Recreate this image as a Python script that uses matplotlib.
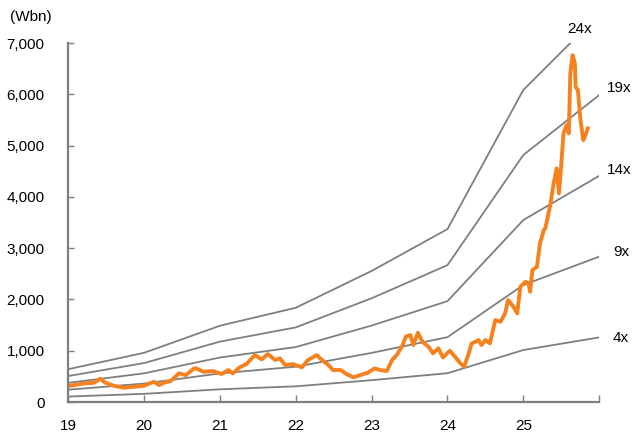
import matplotlib.pyplot as plt
import numpy as np

plt.rcParams['font.family'] = ['Liberation Sans', 'DejaVu Sans']

# PER band: yearly earnings nodes (Wbn) and multiples
band_years = [19, 20, 21, 22, 23, 24, 25, 26]
earnings = [26.7, 40.0, 62.0, 76.6, 106.5, 140.5, 253.5, 315.0]
multiples = [4, 9, 14, 19, 24]

# market cap (Wbn)
mc_years = [19.00, 19.08, 19.21, 19.34, 19.42, 19.49, 19.60, 19.73, 19.87, 20.00,
            20.13, 20.20, 20.26, 20.35, 20.46, 20.55, 20.66, 20.69, 20.78, 20.91,
            21.02, 21.11, 21.17, 21.26, 21.35, 21.46, 21.55, 21.63, 21.73, 21.79,
            21.86, 21.96, 22.08, 22.16, 22.28, 22.32, 22.43, 22.49, 22.59, 22.67,
            22.76, 22.85, 22.95, 23.04, 23.11, 23.20, 23.27, 23.33, 23.40, 23.45,
            23.51, 23.55, 23.61, 23.67, 23.75, 23.81, 23.88, 23.94, 24.03, 24.10,
            24.17, 24.22, 24.28, 24.32, 24.37, 24.41, 24.45, 24.50, 24.56, 24.63,
            24.70, 24.76, 24.80, 24.87, 24.92, 24.96, 25.03, 25.07, 25.09, 25.12,
            25.18, 25.22, 25.27, 25.29, 25.36, 25.40, 25.44, 25.47, 25.50, 25.53,
            25.57, 25.60, 25.62, 25.65, 25.68, 25.69, 25.72, 25.75, 25.79, 25.82,
            25.85]
mc_values = [312, 330, 364, 376, 454, 376, 318, 279, 298, 318,
             396, 331, 376, 409, 559, 526, 656, 656, 591, 604,
             546, 624, 559, 676, 741, 916, 832, 936, 819, 851,
             721, 741, 676, 819, 916, 851, 721, 624, 624, 546,
             481, 526, 572, 656, 624, 604, 819, 916, 1078, 1273,
             1306, 1111, 1351, 1175, 1078, 949, 1047, 871, 1000, 883,
             754, 688, 949, 1144, 1175, 1209, 1111, 1209, 1144, 1598,
             1565, 1729, 1988, 1858, 1729, 2248, 2345, 2314, 2150, 2573,
             2637, 3094, 3353, 3386, 3873, 4263, 4555, 4068, 4620, 5238,
             5400, 5238, 6407, 6764, 6602, 6146, 6082, 5561, 5107, 5205,
             5335]

label_pos = {24: (25.58, 7270), 19: (26.10, 6120), 14: (26.10, 4520),
             9: (26.18, 2920), 4: (26.18, 1250)}

fig = plt.figure(figsize=(6.32, 4.37), dpi=100)
ax = fig.add_axes([0.108, 0.080, 0.840, 0.8215])

gray = '#7f7f7f'
for m in multiples:
    ax.plot(band_years, np.array(earnings) * m, color=gray, lw=1.3)
    lx, ly = label_pos[m]
    ax.text(lx, ly, '%dx' % m, fontsize=11, va='center', ha='left', clip_on=False)

ax.plot(mc_years, mc_values, color='#f5821f', lw=2.8)

ax.set_xlim(19, 26)
ax.set_ylim(0, 7000)
ax.set_xticks(range(19, 27))
ax.set_xticklabels(['19', '20', '21', '22', '23', '24', '25', ''])
ax.set_yticks(range(0, 7001, 1000))
ax.set_yticklabels(['{:,}'.format(v) for v in range(0, 7001, 1000)])
ax.tick_params(axis='both', direction='in', length=4, width=1, color=gray, labelsize=11)
ax.tick_params(axis='y', pad=17)
ax.tick_params(axis='x', pad=12, length=5)

for s in ['top', 'right']:
    ax.spines[s].set_visible(False)
for s in ['left', 'bottom']:
    ax.spines[s].set_color(gray)
    ax.spines[s].set_linewidth(1.6)

fig.text(0.016, 0.962, '(Wbn)', fontsize=11, va='center', ha='left')

fig.savefig('out.png', dpi=100)
